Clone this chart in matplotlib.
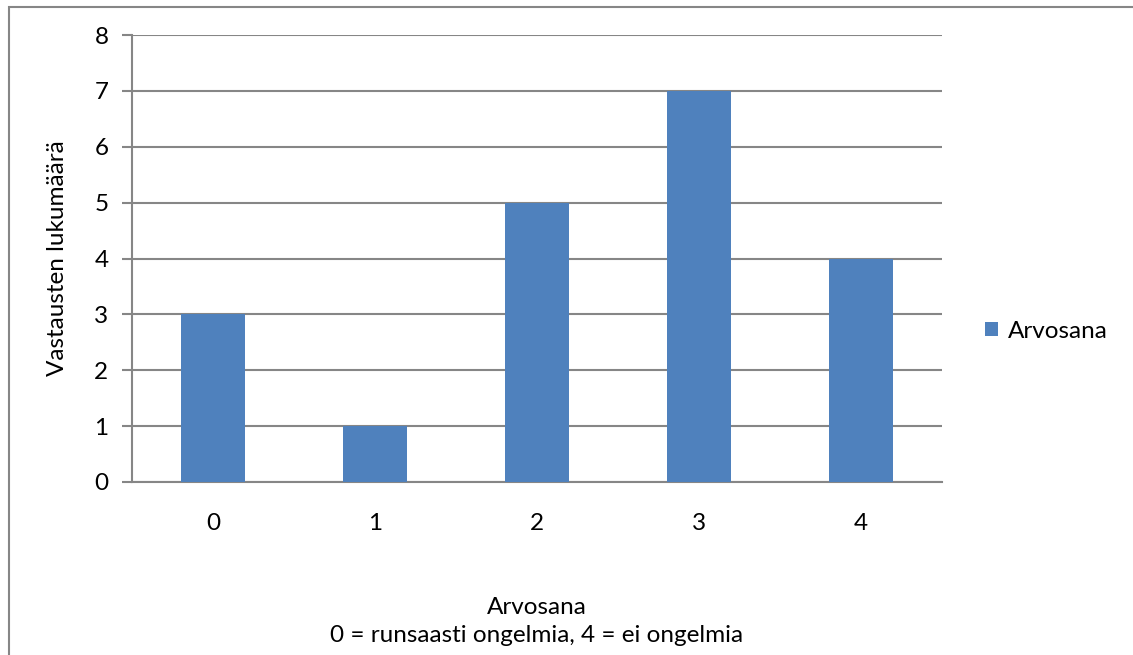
import matplotlib
matplotlib.use("Agg")
import matplotlib.pyplot as plt
from matplotlib.patches import Rectangle

# Data
categories = ["0", "1", "2", "3", "4"]
counts = [3, 1, 5, 7, 4]
series_name = "Arvosana"
y_ticks = [0, 1, 2, 3, 4, 5, 6, 7, 8]

W, H = 1133, 655
plt.rcParams['font.family'] = ['Lato', 'DejaVu Sans']
FS = 17.5

fig = plt.figure(figsize=(W / 100, H / 100), dpi=100)
fig.patch.set_facecolor("white")

# Chart-area border (runs off the right and bottom edges)
fig.patches.append(Rectangle((8.5 / W, -0.1), 2, 1.1 - 6.5 / H, transform=fig.transFigure,
                             fill=False, edgecolor="#868686", linewidth=1.5, zorder=0))

left, right = 132 / W, 942 / W
bottom, top = 1 - 482 / H, 1 - 35 / H
ax = fig.add_axes([left, bottom, right - left, top - bottom])

bar_color = "#4F81BD"
grid_color = "#868686"
x = list(range(len(categories)))
ax.bar(x, counts, width=0.4, color=bar_color, zorder=3, label=series_name)

ax.set_xlim(-0.5, len(categories) - 0.5)
ax.set_ylim(0, 8)
ax.set_yticks(y_ticks)
ax.set_xticks(x)
ax.set_xticklabels(categories)

for y in y_ticks:
    ax.axhline(y, color=grid_color, linewidth=1.5, zorder=1)

for side in ["top", "right"]:
    ax.spines[side].set_visible(False)
ax.spines["left"].set_color(grid_color)
ax.spines["left"].set_linewidth(1.5)
ax.spines["bottom"].set_color(grid_color)
ax.spines["bottom"].set_linewidth(1.5)

ax.tick_params(axis="y", length=7, width=1.5, color=grid_color, pad=10,
               labelsize=FS, labelcolor="#000000")
ax.tick_params(axis="x", length=0, pad=22, labelsize=FS, labelcolor="#000000")

ax.set_ylabel("Vastausten lukumäärä", fontsize=FS)
ax.yaxis.set_label_coords(-(132 - 58) / (942 - 132), 0.5)
ax.yaxis.label.set_va("center")

fig.text((132 + 942) / 2 / W, 1 - 607 / H, "Arvosana", ha="center", va="center", fontsize=FS)
fig.text((132 + 942) / 2 / W, 1 - 635 / H, "0 = runsaasti ongelmia, 4 = ei ongelmia",
         ha="center", va="center", fontsize=FS)

fig.legend(loc="center left", bbox_to_anchor=(985 / W, 1 - 331 / H), frameon=False,
           fontsize=FS, handlelength=0.55, handleheight=0.55, handletextpad=0.4,
           borderaxespad=0, borderpad=0)

fig.savefig("out.png", dpi=100, facecolor="white")
